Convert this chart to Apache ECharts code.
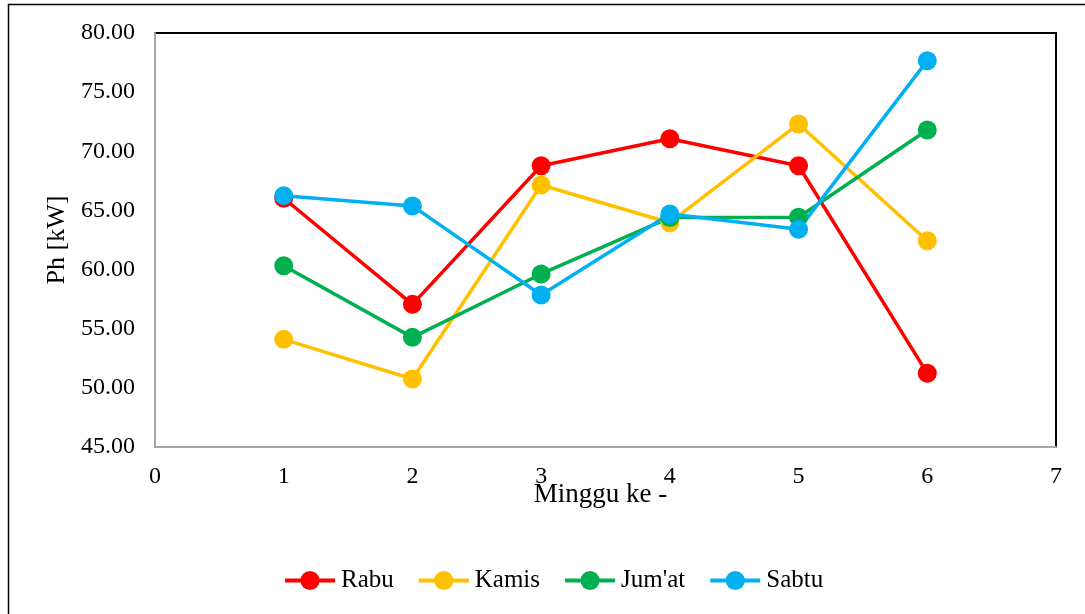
<!DOCTYPE html>
<html>
<head>
<meta charset="utf-8">
<script src="https://cdn.jsdelivr.net/npm/echarts@6/dist/echarts.min.js"></script>
<style>
  html, body { margin: 0; padding: 0; background: #fff; }
  #chart { width: 1085px; height: 614px; }
</style>
</head>
<body>
<div id="chart"></div>
<script>
// Weekly power readings (Ph, kW) per day of the week
const weeks = [1, 2, 3, 4, 5, 6];
const rabu  = [66.03, 57.06, 68.78, 71.06, 68.78, 51.23];
const kamis = [54.10, 50.75, 67.15, 63.96, 72.31, 62.44];
const jumat = [60.33, 54.27, 59.63, 64.40, 64.42, 71.80];
const sabtu = [66.25, 65.38, 57.85, 64.70, 63.40, 77.66];

const seriesNames  = ['Rabu', 'Kamis', "Jum'at", 'Sabtu'];
const seriesValues = [rabu, kamis, jumat, sabtu];
const seriesColors = ['#FF0000', '#FFC000', '#00B050', '#00B0F0'];

const font = 'Liberation Serif, Times New Roman, serif';

const chart = echarts.init(document.getElementById('chart'), null, { renderer: 'canvas' });

const series = seriesNames.map((name, i) => ({
  name: name,
  type: 'line',
  data: weeks.map((w, j) => [w, seriesValues[i][j]]),
  symbol: 'circle',
  symbolSize: 19,
  color: seriesColors[i],
  lineStyle: { width: 3.5, color: seriesColors[i] },
  itemStyle: { color: seriesColors[i] },
  emphasis: { disabled: true },
  animation: false
}));

chart.setOption({
  backgroundColor: '#ffffff',
  animation: false,
  textStyle: { fontFamily: font },
  graphic: [{
    type: 'rect',
    shape: { x: 8.5, y: 4.5, width: 1200, height: 800 },
    style: { fill: 'none', stroke: '#000', lineWidth: 1.5 },
    silent: true,
    z: -10
  }],
  grid: {
    left: 155, top: 33, right: 29, bottom: 167,
    show: true,
    borderColor: '#000',
    borderWidth: 2,
    backgroundColor: 'transparent'
  },
  legend: {
    data: seriesNames,
    bottom: 16,
    left: 278,
    itemWidth: 50,
    itemHeight: 24,
    itemGap: 23,
    lineStyle: { width: 4 },
    textStyle: { fontFamily: font, fontSize: 25, color: '#000', padding: [0, 0, 0, 1] }
  },
  xAxis: {
    type: 'value',
    min: 0, max: 7, interval: 1,
    name: 'Minggu ke -',
    nameLocation: 'middle',
    nameGap: 34,
    nameMoveOverlap: false,
    nameTextStyle: { fontFamily: font, fontSize: 27, color: '#000', padding: [0, 10, 0, 0] },
    axisLine: { show: true, lineStyle: { color: '#A6A6A6', width: 2 } },
    axisTick: { show: false },
    splitLine: { show: false },
    axisLabel: { fontFamily: font, fontSize: 24, color: '#000', margin: 18 }
  },
  yAxis: {
    type: 'value',
    min: 45, max: 80, interval: 5,
    name: 'Ph [kW]',
    nameLocation: 'middle',
    nameGap: 85,
    nameMoveOverlap: false,
    nameTextStyle: { fontFamily: font, fontSize: 26, color: '#000' },
    axisLine: { show: true, lineStyle: { color: '#A6A6A6', width: 2 } },
    axisTick: { show: false },
    splitLine: { show: false },
    axisLabel: {
      fontFamily: font, fontSize: 24, color: '#000', margin: 20,
      formatter: v => v.toFixed(2)
    }
  },
  series: series
});
</script>
</body>
</html>
